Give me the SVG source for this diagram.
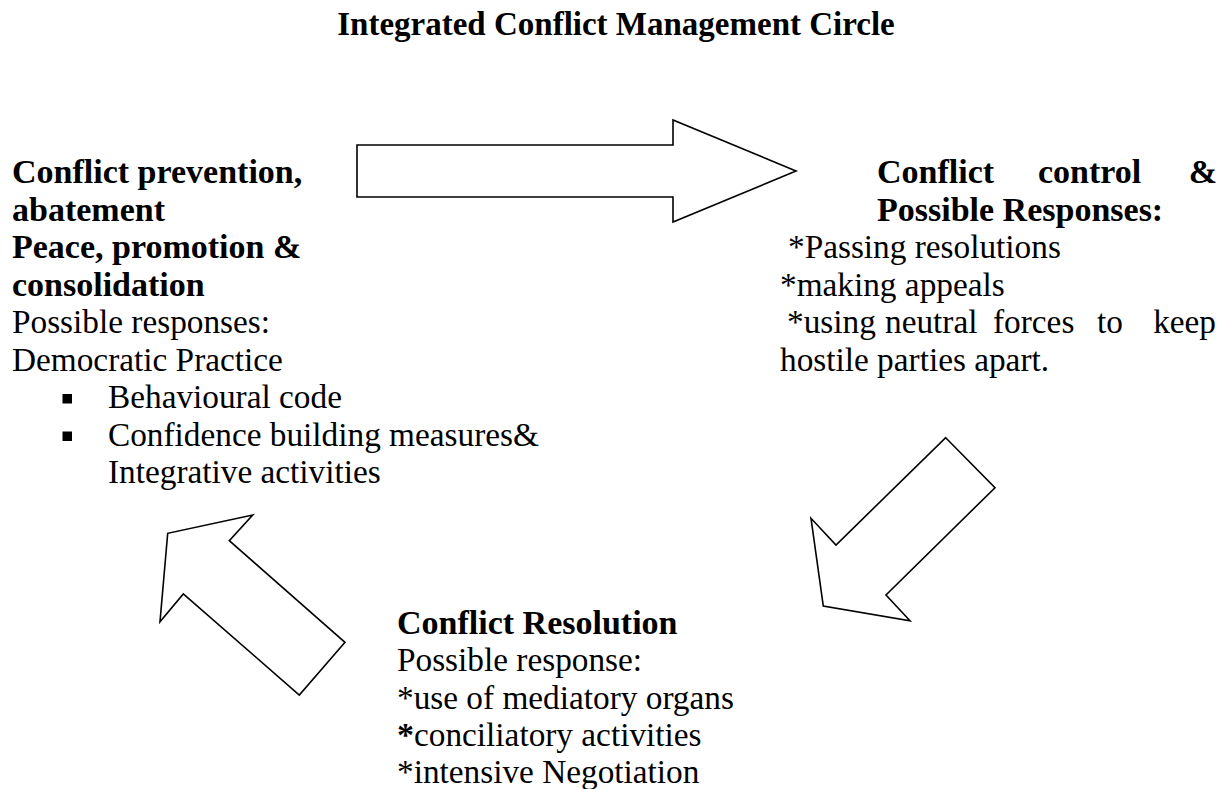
<svg xmlns="http://www.w3.org/2000/svg" width="1229" height="789" viewBox="0 0 1229 789">
  <style>
    text { font-family: "Liberation Serif", "Times New Roman", serif; font-size: 33.3px; fill: #000; }
    .b { font-weight: bold; font-size: 34px; }
    .t { font-weight: bold; font-size: 33px; }
    .arrow { fill: #fff; stroke: #000; stroke-width: 1.6; stroke-linejoin: miter; }
    .bullet { fill: #000; }
  </style>

  <rect width="1229" height="789" fill="#fff"/>

  <!-- heading -->
  <g id="title">
    <text class="t" x="616" y="35" text-anchor="middle">Integrated Conflict Management Circle</text>
  </g>

  <!-- stage 1: prevention / peace building -->
  <g id="node-prevention">
    <text class="b" x="12" y="183">Conflict prevention,</text>
    <text class="b" x="12" y="220.5">abatement</text>
    <text class="b" x="12" y="258">Peace, promotion &amp;</text>
    <text class="b" x="12" y="295.5">consolidation</text>
    <text x="12" y="333">Possible responses:</text>
    <text x="12" y="370.5">Democratic Practice</text>
    <rect class="bullet" x="62.5" y="394" width="9.5" height="9.5"/>
    <text x="108" y="408">Behavioural code</text>
    <rect class="bullet" x="62.5" y="431.5" width="9.5" height="9.5"/>
    <text x="108" y="445.5">Confidence building measures&amp;</text>
    <text x="108" y="483">Integrative activities</text>
  </g>

  <!-- stage 2: control -->
  <g id="node-control">
    <text class="b" y="183"><tspan x="877">Conflict</tspan><tspan x="1038">control</tspan><tspan x="1217" text-anchor="end">&amp;</tspan></text>
    <text class="b" x="877" y="220.5">Possible Responses:</text>
    <text x="788" y="258">*Passing resolutions</text>
    <text x="780" y="295.5">*making appeals</text>
    <text y="333"><tspan x="787">*using</tspan><tspan x="885">neutral</tspan><tspan x="993">forces</tspan><tspan x="1097">to</tspan><tspan x="1216" text-anchor="end">keep</tspan></text>
    <text x="780" y="370.5">hostile parties apart.</text>
  </g>

  <!-- stage 3: resolution -->
  <g id="node-resolution">
    <text class="b" x="397" y="634">Conflict Resolution</text>
    <text x="397" y="671">Possible response:</text>
    <text x="397" y="708.5">*use of mediatory organs</text>
    <text x="397" y="746"><tspan class="b">*</tspan>conciliatory activities</text>
    <text x="397" y="782.5">*intensive Negotiation</text>
  </g>

  <!-- block arrows linking the stages -->
  <g id="connectors">
    <polygon class="arrow" points="357,145 673,145 673,120 796,171 673,222 673,197 357,197"/>
    <polygon class="arrow" points="945.7,437.7 995,487.7 886,595 910,620.7 823.3,606 811,518.3 836,545"/>
    <polygon class="arrow" points="345,642.3 299.3,695 183.3,594 160,621.7 167.7,533.3 252.7,515 229.3,540.7"/>
  </g>
</svg>
